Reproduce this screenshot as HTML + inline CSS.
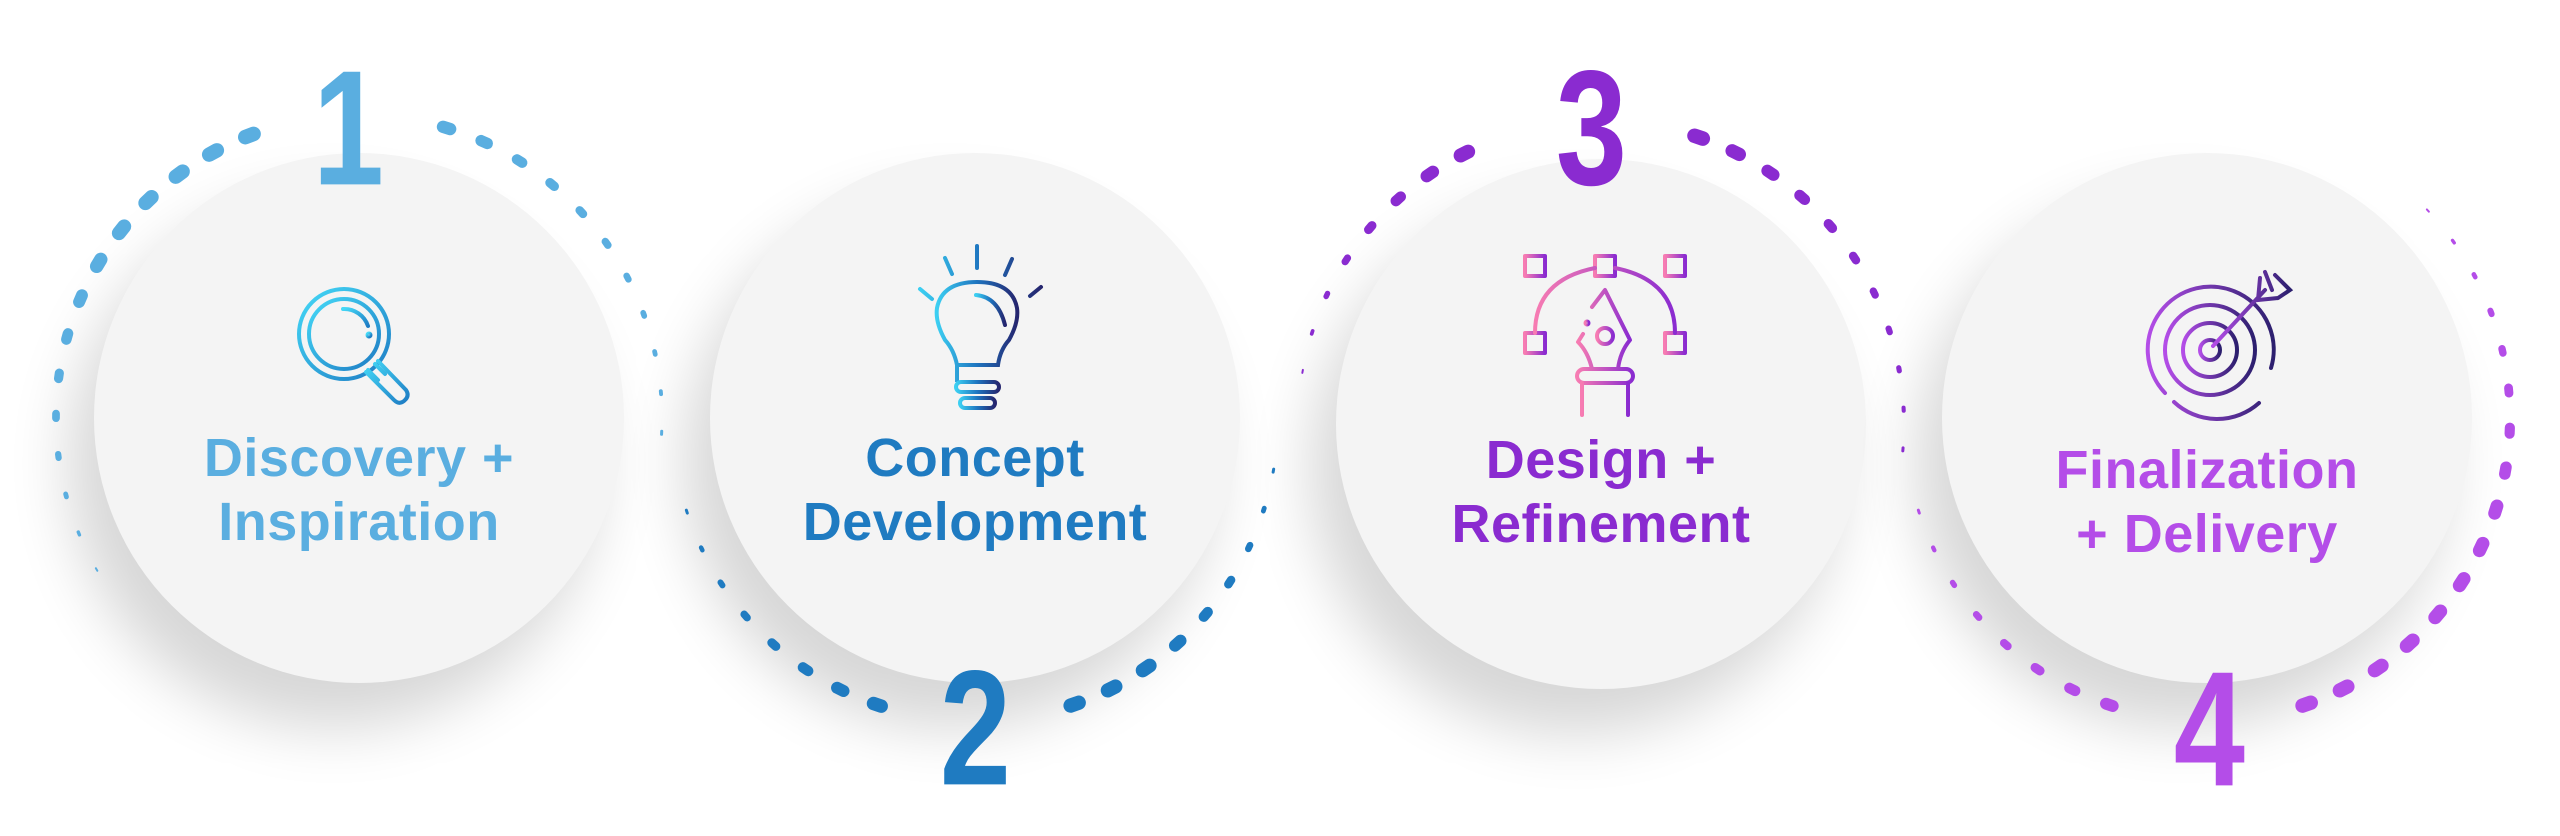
<!DOCTYPE html>
<html><head><meta charset="utf-8"><style>
html,body{margin:0;padding:0;background:#fff;}
body{width:2560px;height:836px;position:relative;overflow:hidden;font-family:"Liberation Sans",sans-serif;}
.c{position:absolute;width:530px;height:530px;border-radius:50%;background:#f4f4f4;box-shadow:-25px 45px 60px rgba(0,0,0,0.16);}
.t{position:absolute;width:600px;text-align:center;font-weight:bold;font-size:54px;line-height:64px;letter-spacing:0.5px;}
.n{position:absolute;font-family:"Liberation Sans Narrow","Liberation Sans",sans-serif;font-weight:bold;font-size:156px;line-height:150px;transform:scaleX(0.82) scaleY(1.05);transform-origin:center top;}
svg{position:absolute;left:0;top:0;}
</style></head><body>
<div class="c" style="left:94px;top:153px"></div>
<div class="c" style="left:710px;top:153px"></div>
<div class="c" style="left:1336px;top:159px"></div>
<div class="c" style="left:1942px;top:153px"></div>

<svg id="s" width="2560" height="836" viewBox="0 0 2560 836">
<defs>
<linearGradient id="g1" x1="0" x2="1" y1="0" y2="1"><stop offset="0" stop-color="#45d9f7"/><stop offset="1" stop-color="#1e7cc4"/></linearGradient>
<linearGradient id="g2" x1="0" x2="1" y1="0" y2="0"><stop offset="0" stop-color="#3ccff2"/><stop offset="0.5" stop-color="#1e74bf"/><stop offset="1" stop-color="#25256e"/></linearGradient>
<linearGradient id="g3" x1="0" x2="1" y1="0" y2="0"><stop offset="0" stop-color="#f77cb2"/><stop offset="1" stop-color="#8a2bd0"/></linearGradient>
<linearGradient id="g4" x1="0" x2="1" y1="0" y2="0"><stop offset="0" stop-color="#b44de8"/><stop offset="1" stop-color="#2c1f6e"/></linearGradient>
</defs>
<g id="dots"></g>
<g fill="none" stroke="url(#g1)" stroke-width="4" stroke-linecap="round">
<circle cx="344" cy="334" r="45"/><circle cx="344" cy="334" r="35"/>
<path d="M343 309 A25 25 0 0 1 368 326"/><circle cx="369" cy="335" r="1.5"/>
<path d="M375 364 L385 374 M368 370 L378 380 M378 361 L406 390 Q410 396 404 401 Q399 405 394 400 L366 372"/>
</g>
<g fill="none" stroke="url(#g2)" stroke-width="4" stroke-linecap="round">
<path d="M957 382 L957 365 Q954 350 945 340 Q935 322 937 308 Q942 282 977 282 Q1012 282 1017 308 Q1019 322 1009 340 Q1000 350 998 365 L957 365 Z"/>
<path d="M976 295 Q998 297 1005 325"/>
<rect x="956" y="382" width="43" height="10" rx="5"/><rect x="960" y="398" width="35" height="10" rx="5"/>
<path d="M977 246 L977 268 M945 258 L952 274 M1012 259 L1005 275 M920 289 L932 299 M1041 287 L1030 296"/>
</g>
<g fill="none" stroke="url(#g3)" stroke-width="4" stroke-linecap="round" stroke-linejoin="round">
<rect x="1525" y="256" width="20" height="20"/><rect x="1595" y="256" width="20" height="20"/><rect x="1665" y="256" width="20" height="20"/>
<rect x="1525" y="333" width="20" height="20"/><rect x="1665" y="333" width="20" height="20"/>
<path d="M1545 266 L1595 266 M1615 266 L1665 266"/>
<path d="M1535 333 Q1535 280 1595 268 M1675 333 Q1675 280 1615 268"/>
<path d="M1592 307 L1605 290 L1630 340 Q1620 352 1618 369 M1583 334 L1578 342 Q1588 352 1592 369"/>
<circle cx="1605" cy="336" r="8"/><path d="M1605 292 L1605 328"/><circle cx="1587" cy="323" r="1.5"/>
<rect x="1577" y="369" width="56" height="14" rx="7"/><path d="M1582 383 L1582 415 M1628 383 L1628 415"/>
</g>
<g fill="none" stroke="url(#g4)" stroke-width="4" stroke-linecap="round">
<circle cx="2210" cy="350" r="10"/><circle cx="2210" cy="350" r="27"/><circle cx="2210" cy="350" r="45"/>
<path d="M2165 393 A63 63 0 1 1 2271 368 M2259 403 A63 63 0 0 1 2174 402"/>
<path d="M2213 346 L2265 290 M2260 278 L2258 300 L2278 298 M2265 272 L2272 290 M2275 275 L2290 290 L2278 298"/>
</g>
</svg>

<div class="n" style="left:305px;top:50px;color:#5aaee0">1</div>
<div class="n" style="left:932px;top:650px;color:#1f7bc1">2</div>
<div class="n" style="left:1548px;top:50px;color:#8a2bd0">3</div>
<div class="n" style="left:2166px;top:651px;color:#b44de8">4</div>

<div class="t" style="left:59px;top:426px;color:#5aaee0">Discovery +<br>Inspiration</div>
<div class="t" style="left:675px;top:426px;color:#1f7bc1">Concept<br>Development</div>
<div class="t" style="left:1301px;top:428px;color:#8a2bd0">Design +<br>Refinement</div>
<div class="t" style="left:1907px;top:438px;color:#b44de8">Finalization<br>+ Delivery</div>

<script>
(function(){
var g=document.getElementById('dots'),ns='http://www.w3.org/2000/svg',R=303,step=7.6;
function ring(cx,cy,col,a0,a1,gap,prof){
 var dir=a1>a0?1:-1,n=Math.floor(Math.abs(a1-a0)/step);
 for(var i=0;i<=n;i++){
  var a=a0+dir*i*step,an=((a%360)+360)%360;
  if(an>gap[0]&&an<gap[1])continue;
  var t=i/n,w;
  for(var k=0;k<prof.length-1;k++){if(t>=prof[k][0]&&t<=prof[k+1][0]){var u=(t-prof[k][0])/(prof[k+1][0]-prof[k][0]);w=prof[k][1]+u*(prof[k+1][1]-prof[k][1]);break;}}
  var r=a*Math.PI/180,x=cx+R*Math.cos(r),y=cy+R*Math.sin(r),tx=-Math.sin(r),ty=Math.cos(r),L=Math.max(3,w*0.6);
  var l=document.createElementNS(ns,'line');
  l.setAttribute('x1',x-tx*L/2);l.setAttribute('y1',y-ty*L/2);l.setAttribute('x2',x+tx*L/2);l.setAttribute('y2',y+ty*L/2);
  l.setAttribute('stroke',col);l.setAttribute('stroke-width',w);l.setAttribute('stroke-linecap','round');
  g.appendChild(l);
 }
}
ring(359,418,'#5aaee0',150,369,[249,285],[[0,2],[0.3,14],[0.55,15],[0.8,8],[1,3]]);
ring(975,418,'#1f7bc1',162,8,[72,108],[[0,3],[0.4,15],[0.7,14],[1,3]]);
ring(1601,424,'#8a2bd0',190,369,[250,286],[[0,2],[0.3,14],[0.55,15],[0.8,8],[1,3]]);
ring(2207,418,'#b44de8',162,-47,[71,107],[[0,3],[0.35,15],[0.7,13],[1,2]]);
})();
</script>
</body></html>
